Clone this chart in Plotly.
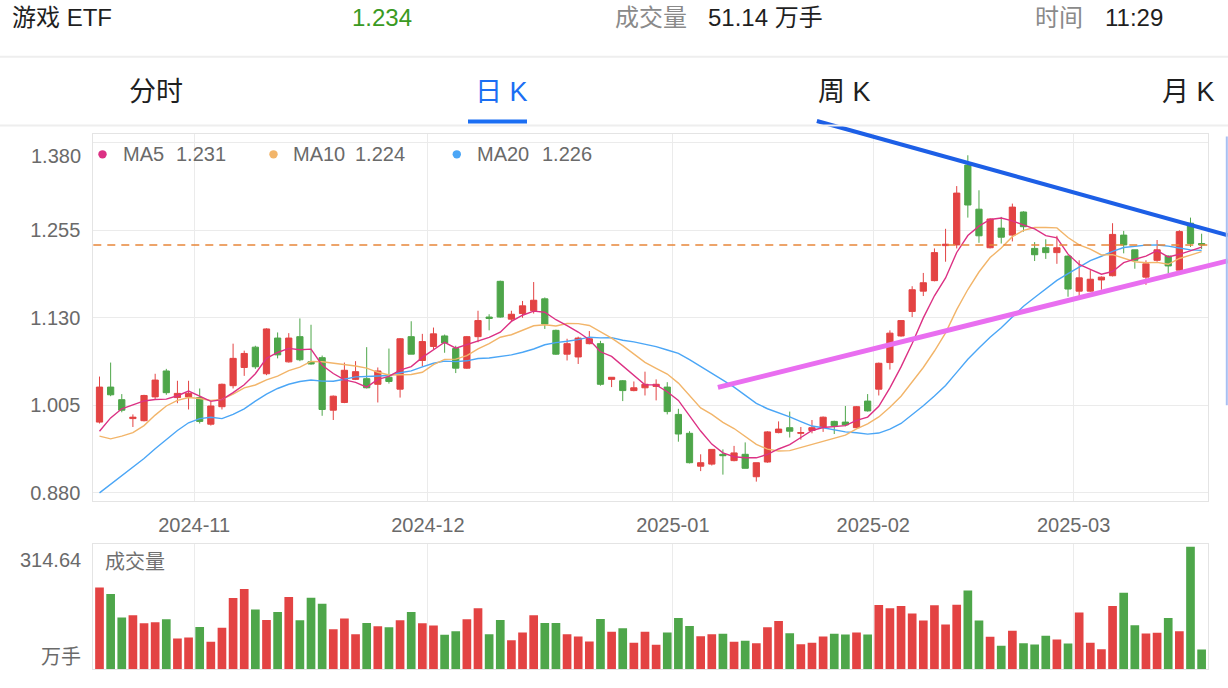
import plotly.graph_objects as go

W, H = 1228, 688

# ---------------- data ----------------
oct_days = [21, 22, 23, 24, 25, 28, 29, 30, 31]
nov_days = [1, 4, 5, 6, 7, 8, 11, 12, 13, 14, 15, 18, 19, 20, 21, 22, 25, 26, 27, 28, 29]
dec_days = [2, 3, 4, 5, 6, 9, 10, 11, 12, 13, 16, 17, 18, 19, 20, 23, 24, 25, 26, 27, 30, 31]
jan_days = [2, 3, 6, 7, 8, 9, 10, 13, 14, 15, 16, 17, 20, 21, 22, 23, 24, 27]
feb_days = [5, 6, 7, 10, 11, 12, 13, 14, 17, 18, 19, 20, 21, 24, 25, 26, 27, 28]
mar_days = [3, 4, 5, 6, 7, 10, 11, 12, 13, 14, 17, 18]

dates = ([f"2024-10-{d:02d}" for d in oct_days] + [f"2024-11-{d:02d}" for d in nov_days]
         + [f"2024-12-{d:02d}" for d in dec_days] + [f"2025-01-{d:02d}" for d in jan_days]
         + [f"2025-02-{d:02d}" for d in feb_days] + [f"2025-03-{d:02d}" for d in mar_days])

month_labels = ["2024-11", "2024-12", "2025-01", "2025-02", "2025-03"]

opens = [0.981, 1.031, 1.013, 0.986, 0.983, 1.017, 1.054, 1.016, 1.017, 1.016,
         0.978, 1.003, 1.033, 1.059, 1.088, 1.050, 1.101, 1.067, 1.103, 1.067,
         1.073, 0.998, 1.009, 1.042, 1.043, 1.035, 1.045, 1.028, 1.103, 1.069,
         1.089, 1.104, 1.086, 1.058, 1.103, 1.131, 1.182, 1.128, 1.136, 1.140,
         1.157, 1.112, 1.078, 1.074, 1.093, 1.093, 1.042, 1.040, 1.026, 1.030,
         1.032, 1.031, 0.992, 0.965, 0.918, 0.921, 0.935, 0.926, 0.935, 0.903,
         0.924, 0.966, 0.973, 0.965, 0.969, 0.974, 0.982, 0.981, 0.973, 1.011,
         1.028, 1.066, 1.104, 1.139, 1.168, 1.183, 1.233, 1.234, 1.348, 1.285,
         1.230, 1.258, 1.248, 1.281, 1.229, 1.230, 1.223, 1.218, 1.168, 1.168,
         1.184, 1.190, 1.248, 1.227, 1.188, 1.212, 1.218, 1.198, 1.265, 1.236]
highs = [1.046, 1.066, 1.021, 0.992, 1.020, 1.050, 1.057, 1.040, 1.040, 1.029,
         1.010, 1.036, 1.093, 1.083, 1.090, 1.115, 1.109, 1.108, 1.129, 1.120,
         1.076, 1.019, 1.066, 1.068, 1.088, 1.059, 1.086, 1.101, 1.125, 1.107,
         1.116, 1.106, 1.090, 1.104, 1.140, 1.135, 1.183, 1.140, 1.154, 1.181,
         1.159, 1.113, 1.100, 1.103, 1.111, 1.097, 1.045, 1.041, 1.039, 1.053,
         1.042, 1.038, 1.000, 0.968, 0.935, 0.942, 0.942, 0.947, 0.952, 0.923,
         0.968, 0.982, 0.996, 0.974, 0.984, 0.989, 0.983, 1.004, 1.004, 1.021,
         1.066, 1.112, 1.126, 1.175, 1.194, 1.229, 1.257, 1.318, 1.362, 1.312,
         1.272, 1.274, 1.293, 1.282, 1.238, 1.242, 1.247, 1.219, 1.212, 1.198,
         1.189, 1.265, 1.254, 1.227, 1.212, 1.241, 1.219, 1.255, 1.273, 1.250]
lows = [0.979, 1.018, 0.995, 0.974, 0.982, 1.014, 1.020, 1.008, 0.999, 0.979,
        0.976, 0.999, 1.029, 1.047, 1.057, 1.048, 1.072, 1.066, 1.068, 1.063,
        0.990, 0.984, 1.008, 1.041, 1.029, 1.009, 1.036, 1.016, 1.078, 1.061,
        1.085, 1.080, 1.051, 1.057, 1.095, 1.112, 1.130, 1.124, 1.130, 1.136,
        1.114, 1.077, 1.069, 1.064, 1.092, 1.033, 1.031, 1.011, 1.025, 1.019,
        1.012, 0.992, 0.953, 0.922, 0.911, 0.919, 0.906, 0.925, 0.915, 0.896,
        0.923, 0.965, 0.959, 0.956, 0.965, 0.967, 0.964, 0.975, 0.972, 0.996,
        1.019, 1.056, 1.103, 1.131, 1.161, 1.182, 1.210, 1.229, 1.273, 1.237,
        1.229, 1.236, 1.239, 1.253, 1.211, 1.214, 1.207, 1.160, 1.161, 1.167,
        1.170, 1.189, 1.222, 1.200, 1.177, 1.210, 1.193, 1.197, 1.231, 1.228]
closes = [1.031, 1.020, 0.998, 0.988, 1.019, 1.041, 1.023, 1.022, 1.022, 0.982,
          1.004, 1.035, 1.072, 1.079, 1.060, 1.114, 1.077, 1.101, 1.070, 1.064,
          0.999, 1.018, 1.055, 1.053, 1.030, 1.054, 1.039, 1.100, 1.078, 1.096,
          1.107, 1.094, 1.058, 1.103, 1.126, 1.129, 1.131, 1.135, 1.147, 1.155,
          1.121, 1.078, 1.093, 1.101, 1.100, 1.035, 1.045, 1.026, 1.030, 1.035,
          1.035, 0.996, 0.964, 0.923, 0.923, 0.942, 0.933, 0.937, 0.915, 0.923,
          0.967, 0.971, 0.968, 0.966, 0.973, 0.988, 0.976, 0.977, 1.003, 0.997,
          1.065, 1.108, 1.126, 1.170, 1.180, 1.223, 1.235, 1.308, 1.291, 1.247,
          1.271, 1.245, 1.288, 1.260, 1.220, 1.223, 1.230, 1.171, 1.187, 1.185,
          1.188, 1.249, 1.234, 1.212, 1.207, 1.227, 1.204, 1.253, 1.236, 1.234]
volumes = [210.6, 193.6, 133.0, 139.0, 118.5, 121.1, 128.8, 79.3, 81.9, 109.1,
           70.8, 106.6, 183.3, 206.4, 153.5, 127.1, 147.5, 185.9, 126.2, 184.2,
           168.8, 103.2, 130.5, 90.4, 119.4, 110.9, 108.3, 126.2, 147.5, 118.5,
           112.6, 88.7, 98.1, 128.8, 156.9, 90.4, 127.1, 75.0, 94.6, 139.0,
           119.4, 119.4, 90.4, 84.4, 71.6, 129.6, 96.4, 105.7, 68.2, 96.4,
           63.1, 94.6, 132.2, 111.7, 85.3, 90.4, 91.2, 70.8, 73.3, 67.4,
           108.3, 124.5, 92.9, 64.8, 68.2, 84.4, 91.2, 89.5, 94.6, 89.5,
           165.4, 156.9, 162.9, 143.3, 125.3, 164.6, 115.1, 166.3, 202.9, 125.3,
           83.6, 60.5, 98.9, 67.4, 64.0, 86.1, 76.7, 66.5, 145.8, 68.2,
           52.0, 162.9, 197.0, 113.4, 92.1, 93.8, 132.2, 98.1, 314.64, 51.14]

ma5_head = [0.968, 0.987, 1.000, 1.006]
ma10_head = [0.961, 0.957, 0.961, 0.966, 0.976, 0.991, 1.004, 1.012, 1.016]
ma20_head = [0.880, 0.892, 0.905, 0.917, 0.929, 0.943, 0.956, 0.969, 0.980, 0.986,
             0.988, 0.986, 0.992, 1.000, 1.011, 1.021, 1.029, 1.035, 1.039]

y_ticks = [1.380, 1.255, 1.130, 1.005, 0.880]
vol_max_label = "314.64"

# hand-drawn trend lines (index, price)
blue_trend = [(64.44, 1.411), (101.36, 1.2477)]
pink_trend = [(55.55, 1.0305), (101.36, 1.2113)]


def moving_average(vals, n, head):
    out = list(head)
    for i in range(len(head), len(vals)):
        out.append(sum(vals[i - n + 1:i + 1]) / n)
    return out


ma5 = moving_average(closes, 5, ma5_head)
ma10 = moving_average(closes, 10, ma10_head)
ma20 = moving_average(closes, 20, ma20_head)

idx = list(range(len(dates)))
month_start = [i for i in range(1, len(dates)) if dates[i][:7] != dates[i - 1][:7]]
tick_pos = [i - 0.5 for i in month_start]

# ---------------- style ----------------
RED = "#e34343"
GREEN = "#4ea64a"
C_MA5 = "#dc3184"
C_MA10 = "#f2b56a"
C_MA20 = "#4ba6f6"
GRID = "#ebebeb"
FRAME = "#e4e4e4"
LABEL = "#6a6a6a"
FONT = "Liberation Sans, Noto Sans CJK SC, sans-serif"


def px(x):
    return x / W


def py(y):
    return 1 - y / H


XDOM = [px(93.3), px(1208.3)]
XR = [-0.557, 99.6]
YR = [0.8686, 1.3918]
VR = [0, 321.2]


def dx(i):
    return XDOM[0] + (i - XR[0]) / (XR[1] - XR[0]) * (XDOM[1] - XDOM[0])


YDOM = [py(503), py(135)]


def dy(p):
    return YDOM[0] + (p - YR[0]) / (YR[1] - YR[0]) * (YDOM[1] - YDOM[0])


fig = go.Figure()

fig.add_trace(go.Candlestick(
    x=idx, open=opens, high=highs, low=lows, close=closes,
    increasing=dict(line=dict(color=RED, width=1), fillcolor=RED),
    decreasing=dict(line=dict(color=GREEN, width=1), fillcolor=GREEN),
    whiskerwidth=0, showlegend=False, xaxis="x", yaxis="y",
    text=dates, hoverinfo="text+y",
))
for vals, col in [(ma20, C_MA20), (ma10, C_MA10), (ma5, C_MA5)]:
    fig.add_trace(go.Scatter(x=idx, y=vals, mode="lines", line=dict(color=col, width=1.4),
                             showlegend=False, xaxis="x", yaxis="y", hoverinfo="skip"))

vol_colors = [RED if c >= o else GREEN for o, c in zip(opens, closes)]
fig.add_trace(go.Bar(x=idx, y=volumes, marker=dict(color=vol_colors, line=dict(width=0)),
                     width=0.78, showlegend=False, xaxis="x2", yaxis="y2"))

axis_common = dict(showgrid=True, gridcolor=GRID, gridwidth=1, zeroline=False,
                   showline=True, mirror=True, linecolor=FRAME, linewidth=1, ticks="")

fig.update_layout(
    width=W, height=H, margin=dict(l=0, r=0, t=0, b=0),
    paper_bgcolor="white", plot_bgcolor="white",
    font=dict(family=FONT, color=LABEL, size=20),
    boxgap=0.2, bargap=0.2, showlegend=False, hovermode="closest",
    xaxis=dict(domain=XDOM, range=XR, tickmode="array", tickvals=tick_pos, ticktext=month_labels,
               tickfont=dict(size=20, color=LABEL), rangeslider=dict(visible=False),
               ticklabelstandoff=6, anchor="y", **axis_common),
    yaxis=dict(domain=YDOM, range=YR, tickmode="array", tickvals=y_ticks,
               ticktext=[""] + [f"{v:.3f}" for v in y_ticks[1:]],
               tickfont=dict(size=20, color=LABEL), ticklabelstandoff=8, anchor="x", **axis_common),
    xaxis2=dict(domain=XDOM, range=XR, matches="x", tickmode="array", tickvals=tick_pos,
                showticklabels=False, anchor="y2", **axis_common),
    yaxis2=dict(domain=[py(672.3), py(546.7)], range=VR, showticklabels=False, anchor="x2",
                **{**axis_common, "showgrid": False}),
)

shapes = []
# current price dashed line
shapes.append(dict(type="line", xref="paper", yref="y", x0=XDOM[0], x1=XDOM[1],
                   y0=closes[-1], y1=closes[-1], line=dict(color="#e8873a", width=1.5, dash="8px,6px")))
# trend lines
for pts, col, wd in [(pink_trend, "#e96ef0", 5), (blue_trend, "#1d5fe6", 4)]:
    shapes.append(dict(type="line", xref="paper", yref="paper",
                       x0=dx(pts[0][0]), y0=dy(pts[0][1]), x1=dx(pts[1][0]), y1=dy(pts[1][1]),
                       line=dict(color=col, width=wd)))
# separators and tab underline
shapes.append(dict(type="line", xref="paper", yref="paper", x0=0, x1=1, y0=py(57), y1=py(57),
                   line=dict(color="#eeeeee", width=2)))
shapes.append(dict(type="line", xref="paper", yref="paper", x0=0, x1=1, y0=py(126), y1=py(126),
                   line=dict(color="#eeeeee", width=2)))
shapes.append(dict(type="rect", xref="paper", yref="paper", x0=px(468), x1=px(527),
                   y0=py(124), y1=py(120), fillcolor="#1b6ef3", line=dict(width=0)))
# light vertical edge line at right
shapes.append(dict(type="line", xref="paper", yref="paper", x0=px(1226.8), x1=px(1226.8),
                   y0=py(137), y1=py(407), line=dict(color="#a8bff2", width=2)))
# legend dots
for cx, col in [(102.5, C_MA5), (273.5, C_MA10), (456.8, C_MA20)]:
    shapes.append(dict(type="circle", xref="paper", yref="paper", x0=px(cx - 4.2), x1=px(cx + 4.2),
                       y0=py(155 + 4.2), y1=py(155 - 4.2), fillcolor=col, line=dict(width=0)))
fig.update_layout(shapes=shapes)

ann = []


def text(x, y, s, size=20, color=LABEL, anchor="left"):
    ann.append(dict(x=px(x), y=py(y), xref="paper", yref="paper", text=s, showarrow=False,
                    xanchor=anchor, yanchor="middle", font=dict(size=size, color=color, family=FONT)))


# header
text(10, 18, "游戏 ETF", 24, "#1f1f1f")
text(350, 18, f"{closes[-1]:.3f}", 24, "#3a9a22")
text(613, 18, "成交量", 24, "#8a8a8a")
text(706, 18, f"{volumes[-1]:.2f} 万手", 24, "#1f1f1f")
text(1033, 18, "时间", 24, "#8a8a8a")
text(1103, 18, "11:29", 24, "#1f1f1f")
# tabs
text(127, 92, "分时", 27, "#1f1f1f")
text(473, 92, "日 K", 27, "#1b6ef3")
text(816, 92, "周 K", 27, "#1f1f1f")
text(1160, 92, "月 K", 27, "#1f1f1f")
# legend
for name, vals, x0, x1 in [("MA5", ma5, 120.7, 174), ("MA10", ma10, 291, 353.3), ("MA20", ma20, 475, 540)]:
    text(x0, 155, name, 20, LABEL)
    text(x1, 155, f"{vals[-1]:.3f}", 20, LABEL)
# top y tick label (shifted below its grid line)
text(83, 157, f"{y_ticks[0]:.3f}", 20, LABEL, "right")
# volume panel labels
text(83, 562, vol_max_label, 20, LABEL, "right")
text(83, 660, "万手", 20, LABEL, "right")
text(103, 564, "成交量", 20, "#707070")
fig.update_layout(annotations=ann)

fig.write_html("out.html")
